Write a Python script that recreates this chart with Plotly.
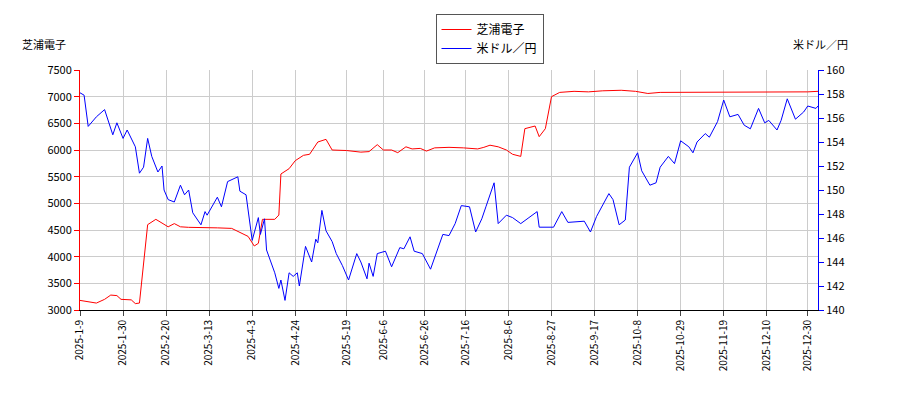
import pandas as pd
import plotly.graph_objects as go

# day offsets from 2025-01-09 and values
start = pd.Timestamp("2025-01-09")

stock_days = [0, 5, 8, 12, 15, 18, 20, 25, 27, 29, 31, 33, 37, 41, 43, 46, 49, 53, 60, 67, 74, 78,
              82, 85, 87, 89, 95, 97, 98, 102, 105, 109, 112, 116, 120, 123, 130, 137, 141, 145, 148,
              152, 155, 159, 162, 166, 169, 173, 180, 187, 194, 197, 200, 204, 208, 211, 215, 217,
              222, 224, 227, 230, 234, 241, 248, 255, 264, 271, 277, 283, 296, 326, 355, 360]
stock_vals = [3180, 3150, 3130, 3200, 3280, 3270, 3200, 3190, 3120, 3130, 3900, 4600, 4700, 4600,
              4560, 4620, 4560, 4550, 4550, 4540, 4530, 4450, 4380, 4200, 4250, 4700, 4700, 4780,
              5550, 5650, 5800, 5900, 5920, 6150, 6200, 6000, 5990, 5960, 5970, 6100, 6000, 6000,
              5950, 6060, 6020, 6030, 5980, 6040, 6050, 6040, 6020, 6050, 6090, 6060, 6000, 5920,
              5880, 6400, 6450, 6250, 6400, 7000, 7080, 7100, 7090, 7110, 7120, 7100, 7060, 7080,
              7080, 7090, 7090, 7100]

fx_days = [0, 2, 4, 8, 12, 16, 18, 21, 23, 27, 29, 31, 33, 35, 38, 40, 41, 43, 46, 49, 51, 53, 55,
           59, 61, 62, 67, 69, 72, 77, 78, 81, 84, 87, 88, 90, 91, 95, 97, 98, 100, 102, 104, 106,
           107, 110, 113, 115, 116, 118, 120, 123, 125, 128, 131, 135, 137, 140, 141, 143, 145,
           149, 152, 156, 158, 161, 163, 167, 171, 174, 177, 180, 183, 186, 190, 193, 196, 198,
           202, 204, 208, 211, 215, 219, 223, 224, 231, 235, 238, 246, 249, 252, 258, 260, 263,
           266, 268, 272, 274, 278, 281, 283, 287, 290, 293, 297, 299, 301, 305, 307, 311, 314,
           317, 321, 324, 327, 331, 334, 336, 340, 342, 345, 349, 353, 355, 359, 360]
fx_vals = [158.1, 157.9, 155.3, 156.1, 156.7, 154.6, 155.6, 154.3, 155.0, 153.6, 151.4, 151.9,
           154.3, 152.8, 151.5, 152.0, 150.0, 149.2, 149.0, 150.4, 149.6, 150.0, 148.1, 147.1,
           148.2, 147.9, 149.4, 148.6, 150.7, 151.1, 149.9, 149.6, 145.8, 147.7, 146.3, 147.6,
           145.0, 143.1, 141.8, 142.5, 140.8, 143.1, 142.8, 143.1, 142.0, 145.3, 144.0, 145.9,
           145.6, 148.3, 146.6, 145.7, 144.7, 143.7, 142.5, 144.7, 144.0, 142.6, 143.9, 142.8,
           144.7, 144.9, 143.6, 145.2, 145.1, 146.1, 144.9, 144.7, 143.4, 144.8, 146.3, 146.2,
           147.2, 148.7, 148.6, 146.5, 147.6, 148.6, 150.6, 147.2, 147.9, 147.7, 147.2, 147.7,
           148.2, 146.9, 146.9, 148.2, 147.3, 147.4, 146.5, 147.8, 149.7, 149.2, 147.1, 147.5,
           151.9, 153.1, 151.6, 150.4, 150.6, 151.9, 152.8, 152.2, 154.1, 153.6, 153.1, 154.0,
           154.7, 154.4, 155.7, 157.5, 156.1, 156.3, 155.4, 155.1, 156.8, 155.6, 155.8, 155.0,
           155.8, 157.6, 155.9, 156.5, 157.0, 156.8, 157.0]

tick_dates = ["2025-01-09", "2025-01-30", "2025-02-20", "2025-03-13", "2025-04-03", "2025-04-24",
              "2025-05-19", "2025-06-06", "2025-06-26", "2025-07-16", "2025-08-06", "2025-08-27",
              "2025-09-17", "2025-10-08", "2025-10-29", "2025-11-19", "2025-12-10", "2025-12-30"]
tick_text = [f"{d[:4]}-{int(d[5:7])}-{int(d[8:])}" for d in tick_dates]

stock_dates = [start + pd.Timedelta(days=d) for d in stock_days]
fx_dates = [start + pd.Timedelta(days=d) for d in fx_days]

fig = go.Figure()
fig.add_trace(go.Scatter(x=stock_dates, y=stock_vals, name="芝浦電子", mode="lines",
                         line=dict(color="#ff0000", width=1)))
fig.add_trace(go.Scatter(x=fx_dates, y=fx_vals, name="米ドル／円", mode="lines", yaxis="y2",
                         line=dict(color="#0000ff", width=1)))

fig.update_layout(
    width=900, height=400,
    margin=dict(l=72, r=90, t=62, b=98, autoexpand=False),
    plot_bgcolor="white", paper_bgcolor="white",
    font=dict(family="Noto Sans CJK JP", size=11, color="#000"),
    showlegend=True,
    legend=dict(x=0.535, y=0.985, xref="container", yref="container", xanchor="center",
                yanchor="top", bordercolor="#555", borderwidth=1, font=dict(size=12),
                tracegroupgap=0),
    xaxis=dict(type="date", range=[start, start + pd.Timedelta(days=360)],
               tickvals=tick_dates, ticktext=tick_text,
               tickangle=-90, showgrid=True, gridcolor="#cccccc", ticks="outside",
               showline=True, linecolor="#000", tickfont=dict(size=10)),
    yaxis=dict(range=[3000, 7500], dtick=500, showgrid=True, gridcolor="#cccccc",
               showline=True, linecolor="#ff0000", ticks="outside", tickcolor="#ff0000",
               tickfont=dict(size=11)),
    yaxis2=dict(range=[140, 160], dtick=2, overlaying="y", side="right", showgrid=False,
                showline=True, linecolor="#0000ff", ticks="outside", tickcolor="#0000ff",
                tickfont=dict(size=11)),
    annotations=[
        dict(text="芝浦電子", x=-0.081, y=1.11, xref="paper", yref="paper", showarrow=False,
             xanchor="left", yanchor="middle"),
        dict(text="米ドル／円", x=1.043, y=1.11, xref="paper", yref="paper", showarrow=False,
             xanchor="right", yanchor="middle"),
    ],
)

fig.write_html("out.html")
